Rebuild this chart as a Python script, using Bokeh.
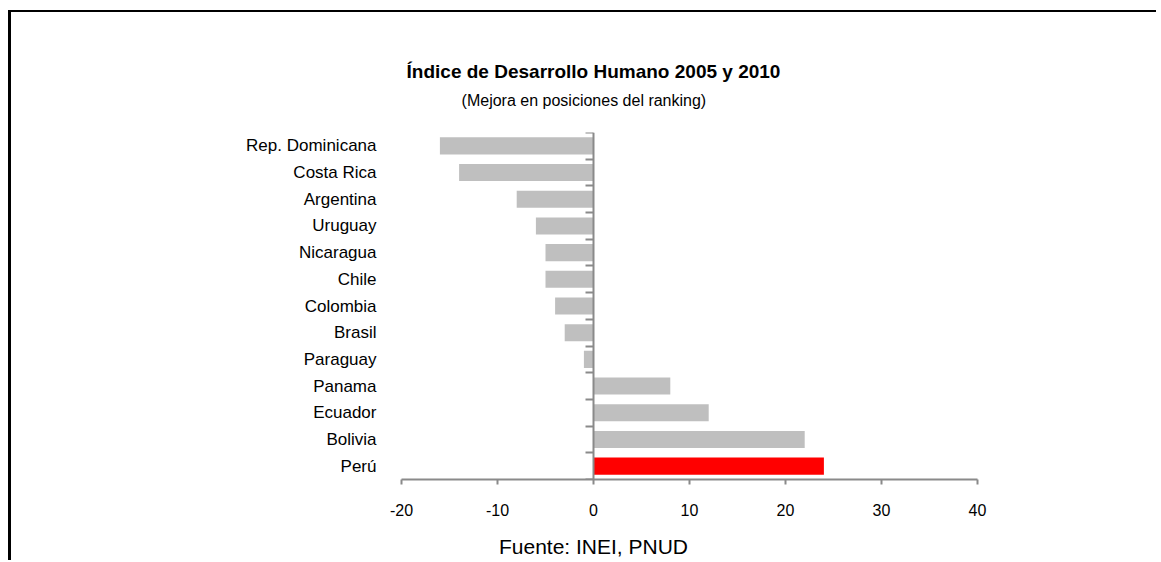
from bokeh.plotting import figure
from bokeh.models import Range1d, LinearAxis, FixedTicker, ColumnDataSource
from bokeh.embed import file_html
from bokeh.resources import INLINE

# ---- data ----
countries = ["Rep. Dominicana", "Costa Rica", "Argentina", "Uruguay", "Nicaragua",
             "Chile", "Colombia", "Brasil", "Paraguay", "Panama", "Ecuador",
             "Bolivia", "Perú"]
values = [-16, -14, -8, -6, -5, -5, -4, -3, -1, 8, 12, 22, 24]
highlight = "Perú"
x_ticks = [-20, -10, 0, 10, 20, 30, 40]
title_text = "Índice de Desarrollo Humano 2005 y 2010"
subtitle_text = "(Mejora en posiciones del ranking)"
source_text = "Fuente: INEI, PNUD"

GRAY_BAR = "#bfbfbf"
RED_BAR = "#ff0000"
AXIS_GRAY = "#8a8a8a"
FONT = "Liberation Sans"

n = len(countries)
# category slots: first country at the top
pos = [n - i - 0.5 for i in range(n)]
colors = [RED_BAR if c == highlight else GRAY_BAR for c in countries]
src = ColumnDataSource(dict(country=countries, y=pos, value=values, color=colors))

W, H = 1148, 550
FL, FW, FT, FH = 390, 576, 120, 347

p = figure(width=W, height=H,
           y_range=Range1d(0, n),
           x_range=Range1d(x_ticks[0], x_ticks[-1]),
           output_backend="svg", toolbar_location=None,
           min_border_left=FL, min_border_right=W - FL - FW,
           min_border_top=FT, min_border_bottom=H - FT - FH,
           margin=(10, 0, 0, 8),
           styles={"border-top": "2px solid black", "border-left": "3px solid black"})

p.hbar(y="y", left=0, right="value", height=0.64, color="color",
       line_color=None, source=src)

p.xgrid.visible = False
p.ygrid.visible = False
p.outline_line_color = None
p.background_fill_color = "white"
p.border_fill_color = "white"

# x axis
xa = p.xaxis[0]
xa.ticker = FixedTicker(ticks=x_ticks)
xa.major_label_overrides = {t: str(t) for t in x_ticks}
xa.axis_line_color = AXIS_GRAY
xa.axis_line_width = 2
xa.major_tick_line_color = AXIS_GRAY
xa.major_tick_line_width = 2
xa.major_tick_out = 5
xa.major_tick_in = 0
xa.minor_tick_line_color = None
xa.major_label_text_font = FONT
xa.major_label_text_font_size = "16px"
xa.major_label_text_color = "black"
xa.major_label_standoff = 19

# category labels (left edge)
ya = p.yaxis[0]
ya.ticker = FixedTicker(ticks=pos)
ya.major_label_overrides = {y: c for y, c in zip(pos, countries)}
ya.axis_line_color = None
ya.major_tick_line_color = None
ya.minor_tick_line_color = None
ya.major_label_text_font = FONT
ya.major_label_text_font_size = "17px"
ya.major_label_text_color = "black"
ya.major_label_standoff = 19

# axis at x = 0 with ticks between categories
zax = LinearAxis(fixed_location=0,
                 ticker=FixedTicker(ticks=list(range(n + 1))),
                 major_label_text_color=None,
                 axis_line_color=AXIS_GRAY, axis_line_width=2,
                 major_tick_line_color=AXIS_GRAY, major_tick_line_width=2,
                 major_tick_out=8, major_tick_in=0,
                 minor_tick_line_color=None)
p.add_layout(zax, "left")


def text_axis(txt, at, size, standoff, bold=False):
    """A bare axis used only to place one centred line of text."""
    return LinearAxis(ticker=FixedTicker(ticks=[at]),
                      major_label_overrides={at: txt},
                      axis_line_color=None, major_tick_line_color=None,
                      minor_tick_line_color=None,
                      major_tick_out=0, major_tick_in=0,
                      major_label_standoff=standoff,
                      major_label_text_font=FONT,
                      major_label_text_font_size=size,
                      major_label_text_font_style="bold" if bold else "normal",
                      major_label_text_color="black")


# subtitle (closest to the plot), then title above it
p.add_layout(text_axis(subtitle_text, -1, "16px", 24), "above")
p.add_layout(text_axis(title_text, 0, "19px", 7, bold=True), "above")
# source note under the x axis
p.add_layout(text_axis(source_text, 0, "21px", 16), "below")

open("out.html", "w").write(file_html(p, INLINE))
